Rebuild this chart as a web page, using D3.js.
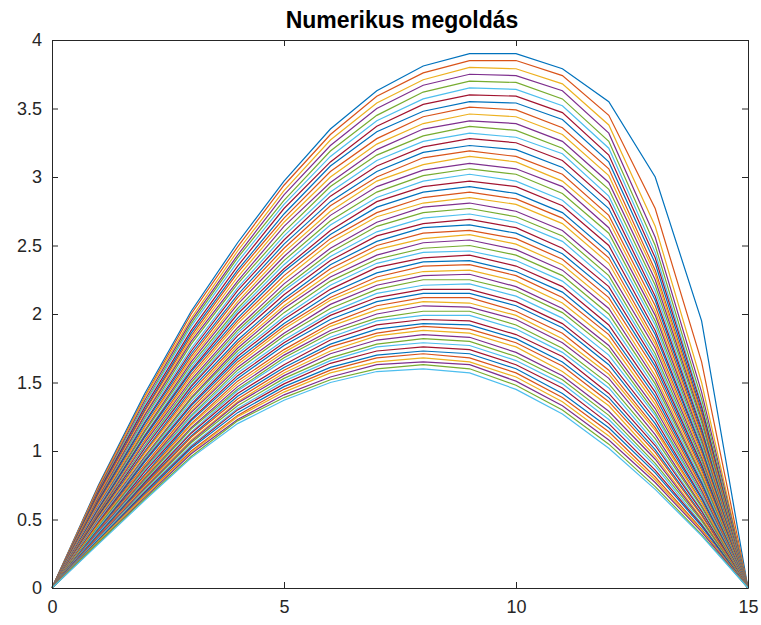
<!DOCTYPE html>
<html><head><meta charset="utf-8">
<script src="https://d3js.org/d3.v7.min.js"></script>
<style>body{margin:0;background:#fff}</style>
</head><body>
<svg id="c" width="761" height="625"></svg>
<script>
const xs = [0,1,2,3,4,5,6,7,8,9,10,11,12,13,14,15];
const xTicks = [0,5,10,15];
const yTicks = [0,0.5,1,1.5,2,2.5,3,3.5,4];
const colors = ["#0072BD","#D95319","#EDB120","#7E2F8E","#77AC30","#4DBEEE","#A2142F"];
// one row per time step (first = top curve), values at x = 0..15
const curves = [
[0,.75,1.42,2.02,2.52,2.97,3.35,3.63,3.81,3.90,3.90,3.79,3.55,3.00,1.95,0],
[0,.74,1.40,2.00,2.49,2.94,3.31,3.59,3.76,3.85,3.85,3.74,3.45,2.77,1.65,0],
[0,.73,1.39,1.97,2.46,2.90,3.27,3.54,3.71,3.80,3.79,3.68,3.38,2.64,1.50,0],
[0,.72,1.37,1.95,2.43,2.87,3.23,3.50,3.67,3.75,3.74,3.63,3.32,2.56,1.43,0],
[0,.71,1.35,1.93,2.41,2.83,3.19,3.45,3.62,3.70,3.69,3.57,3.26,2.50,1.38,0],
[0,.70,1.34,1.91,2.38,2.80,3.15,3.41,3.57,3.65,3.64,3.52,3.21,2.45,1.34,0],
[0,.70,1.32,1.88,2.35,2.77,3.11,3.37,3.53,3.60,3.59,3.47,3.16,2.41,1.32,0],
[0,.69,1.30,1.86,2.32,2.73,3.08,3.33,3.48,3.55,3.54,3.42,3.11,2.37,1.29,0],
[0,.68,1.29,1.84,2.30,2.70,3.04,3.28,3.44,3.51,3.49,3.36,3.06,2.32,1.27,0],
[0,.67,1.27,1.82,2.27,2.67,3.00,3.24,3.39,3.46,3.44,3.31,3.01,2.29,1.25,0],
[0,.66,1.26,1.80,2.24,2.64,2.96,3.20,3.35,3.41,3.39,3.26,2.96,2.25,1.23,0],
[0,.65,1.24,1.78,2.22,2.60,2.93,3.16,3.30,3.37,3.34,3.21,2.91,2.21,1.21,0],
[0,.64,1.23,1.75,2.19,2.57,2.89,3.12,3.26,3.32,3.29,3.17,2.86,2.17,1.18,0],
[0,.64,1.21,1.73,2.17,2.54,2.86,3.08,3.22,3.28,3.25,3.12,2.82,2.13,1.16,0],
[0,.63,1.20,1.71,2.14,2.51,2.82,3.04,3.18,3.23,3.20,3.07,2.77,2.10,1.14,0],
[0,.62,1.18,1.69,2.12,2.48,2.79,3.00,3.14,3.19,3.15,3.02,2.72,2.06,1.12,0],
[0,.61,1.17,1.67,2.09,2.45,2.75,2.97,3.09,3.15,3.11,2.97,2.68,2.02,1.10,0],
[0,.60,1.15,1.65,2.07,2.42,2.72,2.93,3.05,3.10,3.06,2.93,2.63,1.99,1.08,0],
[0,.59,1.14,1.63,2.04,2.39,2.68,2.89,3.01,3.06,3.02,2.88,2.59,1.95,1.06,0],
[0,.59,1.12,1.61,2.02,2.36,2.65,2.85,2.97,3.02,2.97,2.83,2.54,1.92,1.04,0],
[0,.58,1.11,1.59,2.00,2.33,2.61,2.82,2.93,2.97,2.93,2.79,2.50,1.88,1.02,0],
[0,.57,1.10,1.58,1.97,2.31,2.58,2.78,2.89,2.93,2.88,2.74,2.45,1.85,1.01,0],
[0,.56,1.08,1.56,1.95,2.28,2.55,2.74,2.85,2.89,2.84,2.70,2.41,1.81,.99,0],
[0,.56,1.07,1.54,1.93,2.25,2.52,2.71,2.81,2.85,2.80,2.66,2.37,1.78,.97,0],
[0,.55,1.06,1.52,1.90,2.22,2.48,2.67,2.78,2.81,2.75,2.61,2.32,1.75,.95,0],
[0,.54,1.04,1.50,1.88,2.19,2.45,2.64,2.74,2.77,2.71,2.57,2.28,1.71,.93,0],
[0,.53,1.03,1.48,1.86,2.17,2.42,2.60,2.70,2.73,2.67,2.53,2.24,1.68,.91,0],
[0,.53,1.02,1.47,1.84,2.14,2.39,2.57,2.66,2.69,2.63,2.48,2.20,1.65,.90,0],
[0,.52,1.00,1.45,1.81,2.11,2.36,2.53,2.63,2.65,2.59,2.44,2.16,1.62,.88,0],
[0,.51,.99,1.43,1.79,2.09,2.33,2.50,2.59,2.61,2.55,2.40,2.12,1.59,.86,0],
[0,.51,.98,1.41,1.77,2.06,2.30,2.47,2.55,2.58,2.51,2.36,2.08,1.55,.84,0],
[0,.50,.96,1.39,1.75,2.04,2.27,2.43,2.52,2.54,2.47,2.32,2.04,1.52,.82,0],
[0,.49,.95,1.38,1.73,2.01,2.24,2.40,2.48,2.50,2.43,2.28,2.00,1.49,.81,0],
[0,.49,.94,1.36,1.71,1.98,2.21,2.37,2.45,2.46,2.39,2.24,1.96,1.46,.79,0],
[0,.48,.93,1.34,1.69,1.96,2.18,2.34,2.41,2.43,2.35,2.20,1.92,1.43,.77,0],
[0,.47,.92,1.33,1.67,1.93,2.15,2.30,2.38,2.39,2.31,2.16,1.88,1.40,.76,0],
[0,.47,.90,1.31,1.65,1.91,2.12,2.27,2.35,2.36,2.28,2.12,1.85,1.37,.74,0],
[0,.46,.89,1.29,1.63,1.89,2.10,2.24,2.31,2.32,2.24,2.08,1.81,1.34,.72,0],
[0,.45,.88,1.28,1.61,1.86,2.07,2.21,2.28,2.29,2.20,2.04,1.77,1.31,.71,0],
[0,.45,.87,1.26,1.59,1.84,2.04,2.18,2.25,2.25,2.17,2.01,1.74,1.28,.69,0],
[0,.44,.86,1.25,1.57,1.81,2.01,2.15,2.21,2.22,2.13,1.97,1.70,1.26,.68,0],
[0,.43,.85,1.23,1.55,1.79,1.99,2.12,2.18,2.18,2.09,1.93,1.66,1.23,.66,0],
[0,.43,.83,1.22,1.53,1.77,1.96,2.09,2.15,2.15,2.06,1.90,1.63,1.20,.65,0],
[0,.42,.82,1.20,1.51,1.74,1.93,2.06,2.12,2.12,2.02,1.86,1.59,1.17,.63,0],
[0,.41,.81,1.19,1.49,1.72,1.91,2.03,2.09,2.08,1.99,1.82,1.56,1.15,.62,0],
[0,.41,.80,1.17,1.47,1.70,1.88,2.00,2.06,2.05,1.96,1.79,1.53,1.12,.60,0],
[0,.40,.79,1.16,1.45,1.68,1.86,1.97,2.02,2.02,1.92,1.75,1.49,1.09,.59,0],
[0,.40,.78,1.14,1.44,1.66,1.83,1.95,1.99,1.99,1.89,1.72,1.46,1.06,.57,0],
[0,.39,.77,1.13,1.42,1.63,1.81,1.92,1.96,1.95,1.85,1.69,1.42,1.04,.56,0],
[0,.39,.76,1.11,1.40,1.61,1.78,1.89,1.93,1.92,1.82,1.65,1.39,1.01,.54,0],
[0,.38,.75,1.10,1.38,1.59,1.76,1.86,1.91,1.89,1.79,1.62,1.36,.99,.53,0],
[0,.37,.74,1.08,1.36,1.57,1.73,1.84,1.88,1.86,1.76,1.58,1.33,.96,.51,0],
[0,.37,.73,1.07,1.35,1.55,1.71,1.81,1.85,1.83,1.72,1.55,1.29,.94,.50,0],
[0,.36,.72,1.06,1.33,1.53,1.68,1.78,1.82,1.80,1.69,1.52,1.26,.91,.49,0],
[0,.36,.71,1.04,1.31,1.51,1.66,1.76,1.79,1.77,1.66,1.49,1.23,.89,.47,0],
[0,.35,.70,1.03,1.30,1.49,1.64,1.73,1.76,1.74,1.63,1.46,1.20,.86,.46,0],
[0,.35,.69,1.02,1.28,1.47,1.61,1.70,1.73,1.71,1.60,1.42,1.17,.84,.45,0],
[0,.34,.68,1.00,1.26,1.45,1.59,1.68,1.71,1.68,1.57,1.39,1.14,.81,.43,0],
[0,.34,.67,.99,1.25,1.43,1.57,1.65,1.68,1.65,1.54,1.36,1.11,.79,.42,0],
[0,.33,.66,.98,1.23,1.41,1.54,1.63,1.65,1.63,1.51,1.33,1.08,.77,.41,0],
[0,.33,.65,.96,1.22,1.39,1.52,1.60,1.63,1.60,1.48,1.30,1.05,.74,.39,0],
[0,.32,.64,.95,1.20,1.37,1.50,1.58,1.60,1.57,1.45,1.27,1.02,.72,.38,0]
];

const L=52,R=748,T=40,B=588;
const svg=d3.select("#c");
const x=d3.scaleLinear().domain([0,15]).range([L,R]);
const y=d3.scaleLinear().domain([0,4]).range([B,T]);
const line=d3.line().x((d,i)=>x(xs[i])).y(d=>y(d));
svg.append("g").selectAll("path").data(curves).join("path")
  .attr("d",line).attr("fill","none").attr("stroke",(d,i)=>colors[i%7]).attr("stroke-width",1.2);
const font="Liberation Sans, Arial, sans-serif";
const gx=svg.append("g").attr("transform",`translate(0,${B})`).call(d3.axisBottom(x).tickValues(xTicks).tickSizeInner(-6).tickSizeOuter(0).tickPadding(12));
const gy=svg.append("g").attr("transform",`translate(${L},0)`).call(d3.axisLeft(y).tickValues(yTicks).tickSizeInner(-6).tickSizeOuter(0).tickPadding(10).tickFormat(d3.format("")));
const gx2=svg.append("g").attr("transform",`translate(0,${T})`).call(d3.axisTop(x).tickValues(xTicks).tickSizeInner(-6).tickSizeOuter(0).tickFormat(""));
const gy2=svg.append("g").attr("transform",`translate(${R},0)`).call(d3.axisRight(y).tickValues(yTicks).tickSizeInner(-6).tickSizeOuter(0).tickFormat(""));
[gx,gy,gx2,gy2].forEach(g=>{g.selectAll("path,line").attr("stroke","#262626");g.selectAll("text").attr("font-family",font).attr("font-size",18).attr("fill","#262626");});
svg.append("text").attr("x",(L+R)/2+2).attr("y",28).attr("text-anchor","middle").attr("font-family",font).attr("font-weight","bold").attr("font-size",23).attr("fill","#000").text("Numerikus megoldás");
</script>
</body></html>
